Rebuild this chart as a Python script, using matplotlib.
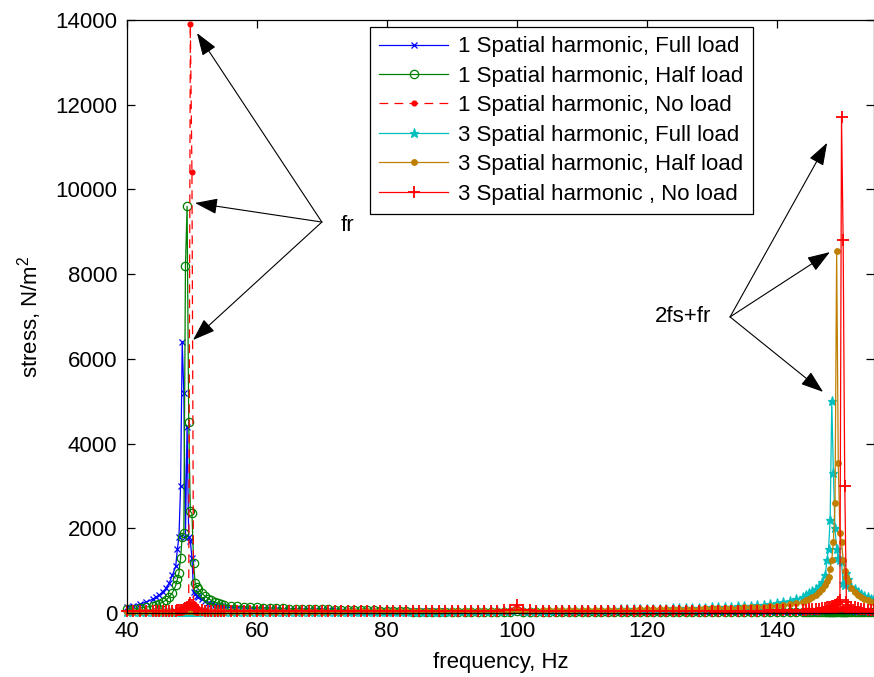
import matplotlib
matplotlib.use("Agg")
import matplotlib.pyplot as plt

plt.rcParams['font.family'] = ['Liberation Sans', 'DejaVu Sans']
plt.rcParams['mathtext.fontset'] = 'custom'
plt.rcParams['mathtext.rm'] = 'Liberation Sans'

# ---------------- data ----------------
freq = [40, 41, 42, 43, 44,
        44.5, 45, 45.5, 46, 46.5, 47, 47.5,
        47.75, 48, 48.25, 48.5, 48.75, 49, 49.25, 49.5, 49.75, 50, 50.25, 50.5, 50.75, 51,
        51.5, 52, 52.5, 53, 53.5, 54, 54.5, 55,
        56, 57, 58, 59, 60, 61, 62, 63, 64, 65,
        66, 67, 68, 69, 70, 71, 72, 73, 74, 75,
        76, 77, 78, 79, 80, 81, 82, 83, 84, 85,
        86, 87, 88, 89, 90, 91, 92, 93, 94, 95,
        96, 97, 98, 99, 100, 101, 102, 103, 104, 105,
        106, 107, 108, 109, 110, 111, 112, 113, 114, 115,
        116, 117, 118, 119, 120, 121, 122, 123, 124, 125,
        126, 127, 128, 129, 130, 131, 132, 133, 134, 135,
        136, 137, 138, 139, 140, 141, 142, 143, 144,
        144.5, 145, 145.5, 146, 146.5, 147, 147.5,
        147.75, 148, 148.25, 148.5, 148.75, 149, 149.25, 149.5, 149.75, 150, 150.25, 150.5, 150.75, 151,
        151.5, 152, 152.5, 153, 153.5, 154, 154.5, 155]

sh1_full = [150, 170, 210, 260, 330,
            380, 430, 500, 580, 700, 900, 1100,
            1500, 1800, 3000, 6400, 5200, 1800, 4400, 1800, 1700, 1300, 500, 450, 400, 380,
            320, 280, 240, 210, 190, 170, 155, 140,
            130, 122, 114, 106, 100, 94, 89, 85, 81, 77,
            74, 71, 68, 66, 64, 62, 60, 58, 56, 54,
            52, 50, 48, 46, 45, 44, 43, 42, 41, 40,
            39, 38, 37, 36, 35, 34, 33, 32, 32, 31,
            31, 30, 30, 32, 45, 32, 30, 29, 28, 28,
            27, 27, 26, 26, 25, 25, 24, 24, 23, 23,
            22, 22, 21, 21, 20, 20, 19, 19, 18, 18,
            17, 17, 16, 16, 16, 15, 15, 15, 14, 14,
            14, 13, 13, 13, 12, 12, 12, 12, 12,
            12, 12, 12, 12, 12, 13, 13,
            13, 14, 14, 15, 16, 18, 20, 25, 30, 35, 25, 20, 16, 14,
            13, 12, 12, 11, 11, 11, 10, 10]

sh1_half = [90, 100, 120, 140, 170,
            190, 220, 260, 300, 380, 480, 650,
            800, 950, 1300, 1800, 1900, 8200, 9600, 4500, 2400, 2350, 1180, 700, 620, 560,
            470, 400, 340, 300, 260, 230, 210, 190,
            170, 158, 147, 138, 130, 123, 117, 112, 107, 103,
            99, 95, 92, 89, 86, 83, 80, 78, 76, 74,
            72, 68, 60, 52, 46, 42, 39, 37, 35, 34,
            33, 32, 31, 30, 30, 29, 29, 28, 28, 27,
            27, 27, 26, 28, 40, 28, 26, 25, 25, 24,
            24, 23, 23, 23, 22, 22, 22, 21, 21, 21,
            20, 20, 20, 19, 19, 19, 18, 18, 18, 18,
            17, 17, 17, 17, 16, 16, 16, 16, 16, 15,
            15, 15, 15, 15, 15, 15, 15, 15, 15,
            15, 15, 16, 16, 16, 17, 17,
            18, 18, 19, 20, 22, 25, 30, 40, 35, 28, 22, 19, 17, 16,
            15, 15, 14, 14, 14, 13, 13, 13]

sh1_none = [35, 35, 36, 37, 38,
            39, 40, 41, 42, 44, 46, 48,
            55, 60, 70, 80, 95, 120, 160, 220, 13900, 10400, 220, 150, 110, 90,
            75, 65, 58, 52, 48, 45, 43, 41,
            40, 39, 39, 38, 38, 38, 37, 37, 37, 37,
            36, 36, 36, 36, 36, 35, 35, 35, 35, 35,
            35, 35, 35, 34, 34, 34, 34, 34, 34, 34,
            34, 34, 34, 34, 34, 34, 35, 35, 36, 37,
            38, 40, 45, 55, 90, 55, 45, 40, 38, 37,
            36, 35, 35, 35, 34, 34, 34, 34, 34, 34,
            34, 34, 34, 34, 34, 34, 35, 35, 35, 35,
            35, 35, 36, 36, 36, 37, 37, 38, 38, 39,
            40, 40, 41, 42, 43, 44, 45, 47, 49,
            50, 52, 54, 56, 58, 61, 64,
            66, 68, 71, 74, 78, 82, 87, 93, 100, 110, 95, 85, 78, 72,
            65, 60, 56, 53, 50, 48, 46, 45]

sh3_full = [12, 12, 12, 12, 13,
            13, 13, 13, 14, 14, 14, 15,
            15, 15, 16, 16, 17, 18, 20, 22, 25, 22, 19, 17, 16, 15,
            15, 14, 14, 14, 14, 14, 14, 14,
            14, 14, 15, 15, 15, 15, 16, 16, 16, 17,
            17, 17, 18, 18, 19, 19, 20, 20, 21, 22,
            22, 23, 24, 25, 26, 27, 28, 29, 30, 31,
            32, 33, 34, 35, 36, 38, 39, 40, 42, 43,
            45, 46, 48, 50, 60, 52, 54, 55, 57, 59,
            60, 62, 64, 66, 68, 70, 72, 75, 78, 82,
            86, 90, 92, 95, 98, 100, 103, 106, 109, 112,
            116, 120, 124, 128, 133, 138, 144, 150, 157, 165,
            175, 187, 200, 215, 240, 265, 295, 330, 380,
            420, 470, 510, 560, 640, 730, 900,
            1250, 1500, 2200, 5000, 3300, 2000, 1500, 1300, 1250, 1200, 700, 650, 940, 800,
            610, 560, 500, 440, 400, 370, 340, 320]

sh3_half = [25, 25, 26, 26, 27,
            27, 28, 28, 29, 29, 30, 30,
            31, 32, 33, 35, 37, 40, 45, 50, 45, 40, 36, 34, 33, 32,
            31, 31, 30, 30, 30, 30, 30, 30,
            30, 30, 30, 30, 31, 31, 31, 32, 32, 32,
            33, 33, 33, 34, 34, 34, 35, 35, 36, 36,
            37, 37, 38, 38, 39, 39, 40, 41, 41, 42,
            43, 43, 44, 45, 46, 47, 47, 48, 49, 50,
            51, 52, 53, 55, 62, 57, 58, 59, 60, 62,
            63, 64, 66, 67, 69, 70, 72, 73, 75, 77,
            79, 80, 82, 84, 86, 88, 90, 92, 94, 97,
            99, 102, 105, 108, 111, 114, 118, 122, 126, 131,
            137, 144, 152, 162, 175, 190, 210, 235, 265,
            300, 340, 380, 430, 490, 560, 660,
            750, 850, 1050, 1250, 1680, 2600, 8550, 3540, 1900, 1680, 1250, 1000, 850, 750,
            600, 500, 430, 380, 340, 300, 270, 250]

sh3_none = [45, 45, 46, 46, 47,
            48, 49, 50, 52, 54, 56, 58,
            62, 66, 72, 80, 95, 120, 150, 190, 240, 200, 140, 100, 80, 70,
            62, 57, 54, 52, 50, 49, 48, 47,
            46, 46, 45, 45, 45, 44, 44, 44, 44, 43,
            43, 43, 43, 42, 42, 42, 42, 42, 42, 42,
            42, 42, 42, 42, 42, 42, 42, 42, 43, 43,
            43, 43, 44, 44, 45, 45, 46, 47, 48, 50,
            52, 55, 60, 75, 180, 75, 60, 55, 52, 50,
            48, 47, 46, 45, 45, 44, 44, 44, 44, 44,
            44, 44, 44, 44, 45, 45, 45, 45, 46, 46,
            46, 47, 47, 48, 48, 49, 50, 51, 52, 53,
            55, 56, 58, 60, 62, 65, 68, 72, 76,
            80, 85, 90, 96, 102, 110, 120,
            130, 140, 150, 160, 175, 190, 210, 250, 300, 11700, 8800, 3000, 250, 190,
            150, 130, 115, 100, 90, 80, 75, 70]

labels = ['1 Spatial harmonic, Full load',
          '1 Spatial harmonic, Half load',
          '1 Spatial harmonic, No load',
          '3 Spatial harmonic, Full load',
          '3 Spatial harmonic, Half load',
          '3 Spatial harmonic , No load']

xticks = [40, 60, 80, 100, 120, 140]
yticks = [0, 2000, 4000, 6000, 8000, 10000, 12000, 14000]

# ---------------- styles ----------------
styles = [
    dict(color='#0000FF', marker='x', ls='-', ms=5, mfc='none', mew=0.9),
    dict(color='#008000', marker='o', ls='-', ms=6, mfc='none', mew=0.9),
    dict(color='#FF0000', marker='.', ls=(0, (7, 5)), ms=7, mew=0.9),
    dict(color='#00BFBF', marker='*', ls='-', ms=6.5, mew=0.9),
    dict(color='#BF7F00', marker='.', ls='-', ms=8, mew=0.9),
    dict(color='#FF0000', marker='+', ls='-', ms=8.5, mew=1.3),
]
series = [sh1_full, sh1_half, sh1_none, sh3_full, sh3_half, sh3_none]

FS = 16

fig = plt.figure(figsize=(8.74, 6.77), dpi=100)
ax = fig.add_axes([127 / 874, 64 / 677, 747 / 874, 593 / 677])

for vals, lab, st in zip(series, labels, styles):
    assert len(vals) == len(freq)
    ax.plot(freq, vals, label=lab, lw=0.9, color=st['color'], marker=st['marker'],
            linestyle=st['ls'], markersize=st['ms'],
            markerfacecolor=st.get('mfc', st['color']), markeredgewidth=st['mew'],
            clip_on=False)

ax.set_xlim(40, 155)
ax.set_ylim(0, 14000)
ax.set_xticks(xticks)
ax.set_yticks(yticks)
ax.tick_params(direction='in', top=True, right=True, length=6, width=0.9,
               labelsize=FS, colors='black')
ax.tick_params(axis='y', pad=7)
ax.tick_params(axis='x', pad=6)
for sp in ax.spines.values():
    sp.set_linewidth(0.9)
    sp.set_color('black')

ax.set_xlabel('frequency, Hz', fontsize=FS, labelpad=7)
ax.set_ylabel('stress, N/m$^{\\mathregular{2}}$', fontsize=FS, labelpad=8)

leg = ax.legend(loc='upper left', bbox_to_anchor=(0.3253, 0.9882), borderaxespad=0,
                fontsize=FS, numpoints=1, handlelength=3.1, handletextpad=0.45,
                labelspacing=0.38, borderpad=0.42, fancybox=False, framealpha=1,
                edgecolor='black')
leg.get_frame().set_linewidth(0.9)

arrow = dict(arrowstyle='-|>,head_length=1.0,head_width=0.35', color='black',
             lw=0.8, mutation_scale=14, shrinkA=0, shrinkB=0)

fr_tail = (70.0, 9230)
for head in [(50.78, 13690), (50.47, 9680), (50.16, 6445)]:
    ax.annotate('', xy=head, xytext=fr_tail, arrowprops=arrow)
ax.text(72.9, 9160, 'fr', fontsize=FS, va='center', ha='left')

f2_tail = (132.84, 6990)
for head in [(147.78, 11100), (148.2, 8520), (147.16, 5220)]:
    ax.annotate('', xy=head, xytext=f2_tail, arrowprops=arrow)
ax.text(129.9, 7000, '2fs+fr', fontsize=FS, va='center', ha='right')

fig.savefig('out.png', dpi=100)
